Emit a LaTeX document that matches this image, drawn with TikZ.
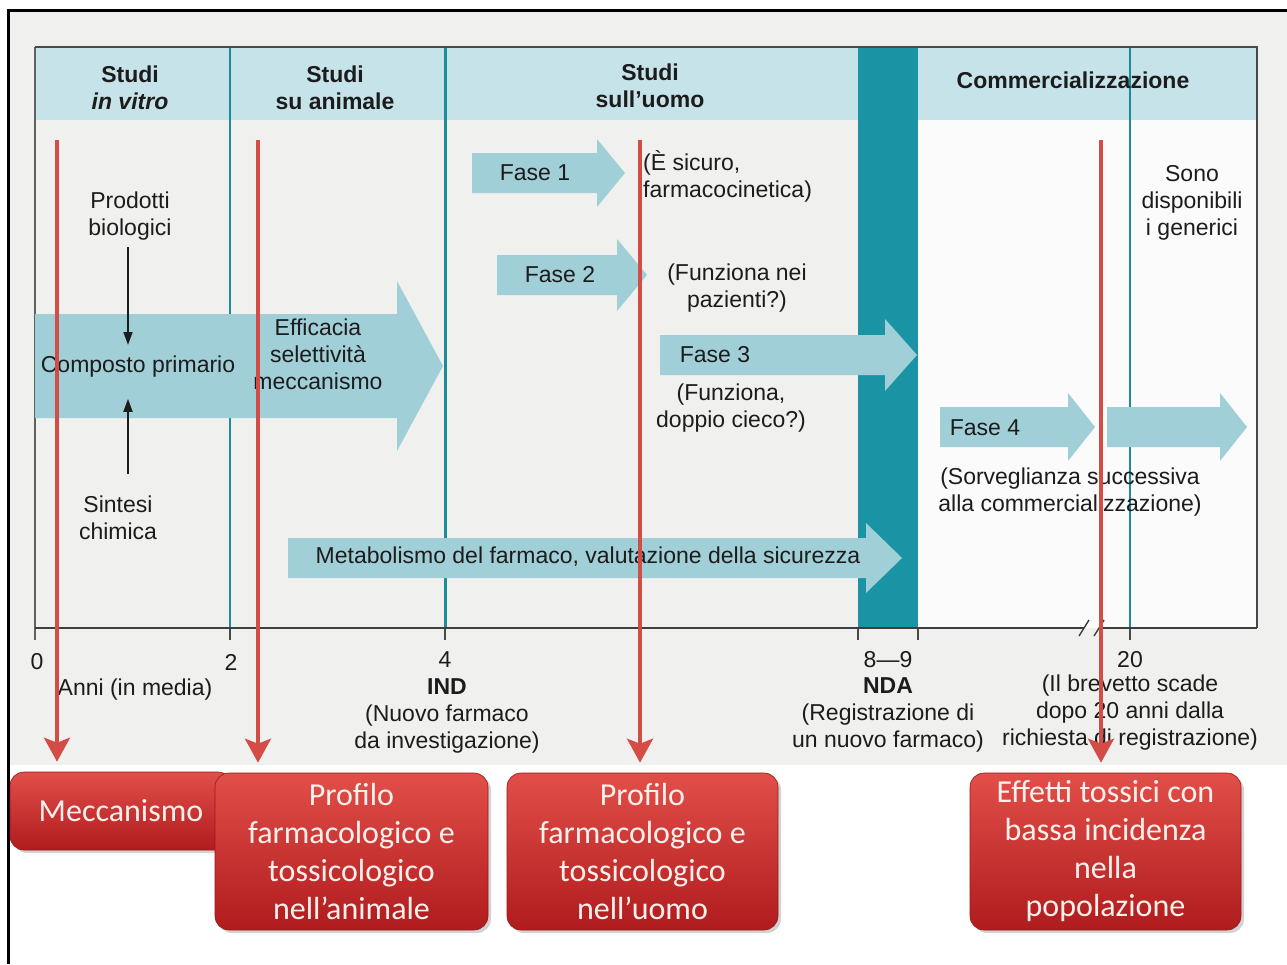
\documentclass[tikz,border=0pt]{standalone}
\usepackage{fontspec}
\setmainfont{Liberation Sans}
\newfontfamily\boxfont{Carlito}
\usetikzlibrary{arrows.meta,shadows}
\definecolor{hdr}{RGB}{198,227,233}
\definecolor{lblue}{RGB}{160,207,215}
\definecolor{ndateal}{RGB}{26,148,164}
\definecolor{tealline}{RGB}{30,140,152}
\definecolor{redarr}{RGB}{212,76,70}
\definecolor{boxtop}{RGB}{226,78,72}
\definecolor{boxbot}{RGB}{176,28,30}
\definecolor{scan}{RGB}{240,241,239}
\definecolor{ink}{RGB}{28,28,28}
\definecolor{boxtext}{RGB}{255,240,236}
\newcommand{\fatarrow}[7]{%
  \fill[#7] (#1,#4-#5) -- (#2,#4-#5) -- (#2,#4-#6) -- (#3,#4) -- (#2,#4+#6) -- (#2,#4+#5) -- (#1,#4+#5) -- cycle;}
\begin{document}
\begin{tikzpicture}[x=1pt,y=-1pt,
  lab/.style={font=\fontsize{23}{27}\selectfont, align=center, inner sep=2pt, text=ink},
  hdrlab/.style={font=\fontsize{23}{27}\selectfont\bfseries, align=center, inner sep=2pt, text=ink},
  axisline/.style={draw=ink!85, line width=1.8pt},
  tick/.style={draw=ink!80, line width=1.4pt},
  blackarrow/.style={draw=ink, line width=1.8pt, -{Triangle[width=9pt,length=13pt]}},
  redarrow/.style={draw=redarr, line width=4pt, -{Stealth[width=26pt,length=24pt,inset=5pt]}},
  redbox/.style={rounded corners=14pt, top color=boxtop, bottom color=boxbot, draw=boxbot!85!black, line width=0.6pt,
    drop shadow={shadow xshift=3pt, shadow yshift=-3pt, opacity=0.35},
    text=boxtext, font=\boxfont\fontsize{32}{38}\selectfont, align=center, inner sep=0pt},
]
\useasboundingbox (0,0) rectangle (1287,964);
\fill[white] (0,0) rectangle (1287,964);
\fill[scan] (10,10) rectangle (1287,765);
\fill[white!97!gray] (918,120) rectangle (1257,628);
\fill[hdr] (35,47) rectangle (1257,120);
% outer border
\draw[black, line width=3pt] (8,964) -- (8,10) -- (1287,10);
% vertical year lines
\draw[gray!75!black, line width=1.2pt] (35,47) -- (35,640);
\draw[tealline, line width=1.2pt] (230,47) -- (230,628);
\draw[tick] (230,628) -- (230,640);
\draw[tealline, line width=3pt] (445,47) -- (445,628);
\draw[tick] (445,628) -- (445,640);
\fill[ndateal] (858,47) rectangle (918,628);
\draw[tick] (858,628) -- (858,640);
\draw[tick] (918,628) -- (918,640);
\draw[tealline, line width=1.2pt] (1130,47) -- (1130,628);
\draw[tick] (1130,628) -- (1130,640);
% frame
\draw[ink!80, line width=1.6pt] (35,47) -- (1257,47) -- (1257,628);
\draw[axisline] (35,628) -- (1084,628);
\draw[axisline] (1099,628) -- (1257,628);
\draw[ink!85, line width=1.4pt] (1079,636) -- (1089,620);
\draw[ink!85, line width=1.4pt] (1094,636) -- (1104,620);
% fat arrows
\fatarrow{35}{397}{443}{366}{52}{85}{lblue}
\fatarrow{472}{597}{625}{173}{20}{34}{lblue}
\fatarrow{497}{617}{647}{275}{20}{36}{lblue}
\fatarrow{660}{885}{917}{355}{20}{36}{lblue}
\fatarrow{288}{866}{902}{558}{20}{35}{lblue}
\fatarrow{940}{1068}{1095}{427}{20}{34}{lblue}
\fatarrow{1107}{1220}{1247}{427}{20}{34}{lblue}
% header labels
\node[hdrlab] (hvitro) at (130,88) {Studi\\\textit{in vitro}};
\node[hdrlab] (hanim) at (335,88) {Studi\\su animale};
\node[hdrlab] (huomo) at (650,86) {Studi\\sull’uomo};
\node[hdrlab] (hcomm) at (1073,80) {Commercializzazione};
% in vitro column
\node[lab] (prod) at (130,216) {Prodotti\\biologici};
\node[lab] (comp) at (138,367) {Composto primario};
\node[lab] (sint) at (118,518) {Sintesi\\chimica};
\draw[blackarrow, shorten <=6pt, shorten >=3pt] (128,241) -- (128,348);
\node[lab] (effic) at (318,354) {Efficacia\\selettività\\meccanismo};
% phases
\node[lab] (f1) at (535,173) {Fase 1};
\node[lab] (f2) at (560,275) {Fase 2};
\node[lab] (f3) at (715,355) {Fase 3};
\node[lab] (f4) at (985,428) {Fase 4};
\node[lab, align=left, anchor=west] (f1t) at (641,176) {(È sicuro,\\farmacocinetica)};
\node[lab] (f2t) at (737,288) {(Funziona nei\\pazienti?)};
\node[lab] (f3t) at (731,408) {(Funziona,\\doppio cieco?)};
\node[lab] (f4t) at (1070,492) {(Sorveglianza successiva\\alla commercializzazione)};
\node[lab] (gen) at (1192,203) {Sono\\disponibili\\i generici};
\node[lab] (metab) at (588,557) {Metabolismo del farmaco, valutazione della sicurezza};
% axis labels
\node[lab] (y0) at (37,662) {0};
\node[lab] (y2) at (231,662) {2};
\node[lab] (y4) at (445,660) {4};
\node[lab] (y89) at (888,660) {8—9};
\node[lab] (y20) at (1130,660) {20};
\node[lab] (anni) at (135,690) {Anni (in media)};
\node[lab] (ind) at (447,716) {\textbf{IND}\\(Nuovo farmaco\\da investigazione)};
\node[lab] (nda) at (888,715) {\textbf{NDA}\\(Registrazione di\\un nuovo farmaco)};
\node[lab] (pat) at (1130,713) {(Il brevetto scade\\dopo 20 anni dalla\\richiesta di registrazione)};
\draw[blackarrow] (sint.north) ++(10,-20) -- ++(0,-75);
% red boxes
\node[redbox, minimum width=222pt, minimum height=78pt] (mecc) at (121,811) {Meccanismo};
\node[redbox, minimum width=273pt, minimum height=157pt] (pan) at (351.5,851.5) {Profilo\\farmacologico e\\tossicologico\\nell’animale};
\node[redbox, minimum width=271pt, minimum height=157pt] (puo) at (642.5,851.5) {Profilo\\farmacologico e\\tossicologico\\nell’uomo};
\node[redbox, minimum width=271pt, minimum height=157pt] (eff) at (1105.5,851.5) {Effetti tossici con\\bassa incidenza\\nella\\popolazione};
% red arrows
\coordinate (r1) at (57,140);
\coordinate (r2) at (258,140);
\coordinate (r3) at (640,140);
\coordinate (r4) at (1101,140);
\draw[redarrow, shorten >=10pt] (r1) -- (r1 |- mecc.north);
\draw[redarrow, shorten >=10pt] (r2) -- (r2 |- pan.north);
\draw[redarrow, shorten >=10pt] (r3) -- (r3 |- puo.north);
\draw[redarrow, shorten >=10pt] (r4) -- (r4 |- eff.north);
\end{tikzpicture}
\end{document}
